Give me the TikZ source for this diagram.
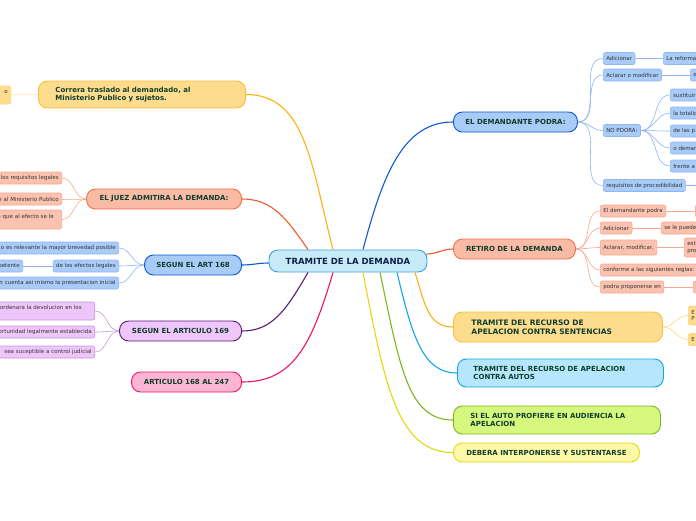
\documentclass[tikz,border=0pt]{standalone}
\usepackage{fontspec}
\setmainfont{DejaVu Sans}
\usepackage{xcolor}
\usetikzlibrary{positioning,calc}

% colours of the map
\definecolor{hubfill}{HTML}{C8EBFA}
\definecolor{hubline}{HTML}{3D9FDC}
\definecolor{hubtext}{HTML}{102047}
\definecolor{topictext}{HTML}{0F3D2B}
\definecolor{leaftext}{HTML}{333333}
\definecolor{blueline}{HTML}{0A5BD3}
\definecolor{bluefill}{HTML}{A8CBF8}
\definecolor{bluetwig}{HTML}{8FB7F0}
\definecolor{salmonline}{HTML}{F0582C}
\definecolor{salmonfill}{HTML}{F9BBA6}
\definecolor{salmontwig}{HTML}{F8A88E}
\definecolor{yellowline}{HTML}{FCB016}
\definecolor{yellowfill}{HTML}{FEDC8E}
\definecolor{yellowtwig}{HTML}{FDD57A}
\definecolor{cyanline}{HTML}{10A6E8}
\definecolor{cyanfill}{HTML}{B5E6FB}
\definecolor{greenline}{HTML}{7DB51F}
\definecolor{greenfill}{HTML}{D7F87F}
\definecolor{lemonline}{HTML}{E8D60A}
\definecolor{lemonfill}{HTML}{FDF9A8}
\definecolor{purpleline}{HTML}{5A1B78}
\definecolor{purplefill}{HTML}{EFC6FA}
\definecolor{purpletwig}{HTML}{C695D6}
\definecolor{pinkline}{HTML}{F2126E}
\definecolor{pinkfill}{HTML}{FDB5D4}

\begin{document}
\begin{tikzpicture}[x=1pt,y=-1pt]
        % Define the styles for the topics and the leaves
        \tikzstyle{hub}=[draw=hubline, fill=hubfill, rounded corners=9pt, line width=0.9pt, minimum width=158pt, minimum height=22pt, inner xsep=0pt, font=\bfseries\fontsize{8.5}{10}\selectfont, text=hubtext];
        \tikzstyle{topic}=[rounded corners=9pt, line width=0.9pt, minimum height=20pt, inner xsep=0pt, inner ysep=1pt, font=\bfseries\fontsize{7}{8.5}\selectfont, text=topictext];
        \tikzstyle{leaf}=[rounded corners=2pt, line width=0.6pt, minimum height=12pt, inner xsep=3pt, inner ysep=0pt, font=\fontsize{5.5}{6.5}\selectfont, text=leaftext];
        \tikzstyle{link}=[line width=1.1pt];
        \tikzstyle{twig}=[line width=0.6pt];
        \tikzset{
          blueT/.style={draw=blueline, fill=bluefill},
          salmonT/.style={draw=salmonline!85, fill=salmonfill},
          yellowT/.style={draw=yellowline!85, fill=yellowfill},
          cyanT/.style={draw=cyanline, fill=cyanfill},
          greenT/.style={draw=greenline, fill=greenfill},
          lemonT/.style={draw=lemonline, fill=lemonfill},
          purpleT/.style={draw=purpleline, fill=purplefill},
          pinkT/.style={draw=pinkline, fill=pinkfill},
          blueL/.style={draw=bluetwig, fill=bluefill},
          salmonL/.style={draw=salmontwig, fill=salmonfill!90},
          yellowL/.style={draw=yellowtwig, fill=yellowfill},
          purpleL/.style={draw=purpletwig, fill=purplefill},
          cutleft/.style={text width=#1, align=right},
          cutright/.style={text width=#1, align=left},
          boxed/.style={text width=#1, align=left},
        }

        \useasboundingbox (0,0) rectangle (696,520);
        \clip (0,0) rectangle (696,520);

        % Central topic
        \node[hub] (tramite) at (348,261) {TRAMITE DE LA DEMANDA};

        % Main topics on the right
        \node[topic, blueT, anchor=west, minimum width=124pt] (dem) at (453,122) {EL DEMANDANTE PODRA:};
        \node[topic, salmonT, anchor=west, minimum width=122pt] (ret) at (453,249) {RETIRO DE LA DEMANDA};
        \node[topic, yellowT, anchor=west, minimum height=30pt, inner xsep=18pt, boxed=173pt, font=\bfseries\fontsize{7.5}{9}\selectfont] (sent) at (453,327) {TRAMITE DEL RECURSO DE\\APELACION CONTRA SENTENCIAS};
        \node[topic, cyanT, anchor=west, minimum height=28pt, inner xsep=16pt, boxed=174pt] (autos) at (457,373) {TRAMITE DEL RECURSO DE APELACION\\CONTRA AUTOS};
        \node[topic, greenT, anchor=west, minimum height=28pt, inner xsep=17pt, boxed=173pt] (aud) at (453,420) {SI EL AUTO PROFIERE EN AUDIENCIA LA\\APELACION};
        \node[topic, lemonT, anchor=west, minimum width=186pt, minimum height=19pt] (deb) at (453,452.5) {DEBERA INTERPONERSE Y SUSTENTARSE};

        % Main topics on the left
        \node[topic, yellowT, anchor=west, minimum height=27pt, inner xsep=17pt, boxed=173pt] (corr) at (38,94.5) {Correra traslado al demandado, al\\Ministerio Publico y sujetos.};
        \node[topic, salmonT, anchor=east, minimum width=155pt] (juez) at (242,199) {EL JUEZ ADMITIRA LA DEMANDA:};
        \node[topic, blueT, anchor=east, minimum width=97pt] (art168) at (242,265) {SEGUN EL ART 168};
        \node[topic, purpleT, anchor=east, minimum width=122pt] (art169) at (242,331) {SEGUN EL ARTICULO 169};
        \node[topic, pinkT, anchor=east, minimum width=110pt] (art247) at (242,382) {ARTICULO 168 AL 247};

        % Connect the central topic with the main topics
        \draw[link, blueline] ($(tramite.north)+(15,0)$) .. controls +(20,-75) and +(-50,0) .. (dem.west);
        \draw[link, salmonline] ($(tramite.east)+(-1,-7)$) .. controls +(10,0) and +(-10,0) .. (ret.west);
        \draw[link, yellowline] ($(tramite.south)+(67,0)$) .. controls +(10,32) and +(-25,0) .. (sent.west);
        \draw[link, cyanline] ($(tramite.south)+(49,0)$) .. controls +(15,62) and +(-35,0) .. (autos.west);
        \draw[link, greenline] ($(tramite.south)+(32,0)$) .. controls +(20,95) and +(-45,0) .. (aud.west);
        \draw[link, lemonline] ($(tramite.south)+(15,0)$) .. controls +(22,115) and +(-55,0) .. (deb.west);
        \draw[link, yellowline] ($(tramite.north)+(-15,0)$) .. controls +(-22,-85) and +(60,0) .. (corr.east);
        \draw[link, salmonline] ($(tramite.north)+(-40,0)$) .. controls +(-22,-32) and +(30,0) .. (juez.east);
        \draw[link, blueline] ($(tramite.west)+(0,2)$) .. controls +(-10,0) and +(10,0) .. (art168.east);
        \draw[link, purpleline] ($(tramite.south)+(-40,0)$) .. controls +(-22,38) and +(30,0) .. (art169.east);
        \draw[link, pinkline] ($(tramite.south)+(-15,0)$) .. controls +(-22,75) and +(50,0) .. (art247.east);

        % Leaves of EL DEMANDANTE PODRA
        \node[leaf, blueL, anchor=west] (adic) at (603,58.5) {Adicionar};
        \node[leaf, blueL, anchor=west, cutright=60pt] (reforma) at (663,58.5) {La reforma};
        \node[leaf, blueL, anchor=west] (aclar) at (603,75) {Aclarar o modificar};
        \node[leaf, blueL, anchor=west, cutright=40pt] (aclarnext) at (690,75) {e};
        \node[leaf, blueL, anchor=west] (nopodra) at (603,130.5) {NO PDORA:};
        \node[leaf, blueL, anchor=west] (req) at (603,185.5) {requisitos de procedibilidad};
        \coordinate (reqnext) at (710,185.5);
        \foreach \y/\txt [count=\i] in {95/sustituir, 113/la totalid, 131/de las p, 148/o deman, 166/frente a}{
          \node[leaf, blueL, anchor=west, cutright=40pt] (nop\i) at (670,\y) {\txt};
          \draw[twig, bluetwig] (nopodra.east) to[out=0,in=180] (nop\i.west);
        }
        \foreach \leafname in {adic, aclar, nopodra, req}
          \draw[twig, bluetwig] (dem.east) to[out=0,in=180] (\leafname.west);
        \draw[twig, bluetwig] (adic) -- (reforma);
        \draw[twig, bluetwig] (aclar) -- (aclarnext);
        \draw[twig, bluetwig] (req) -- (reqnext);

        % Leaves of RETIRO DE LA DEMANDA
        \node[leaf, salmonL, anchor=west] (edp) at (600,211) {El demandante podra};
        \node[leaf, salmonL, anchor=west, cutright=40pt] (edpnext) at (695,211) {};
        \node[leaf, salmonL, anchor=west] (adicr) at (600,228) {Adicionar};
        \node[leaf, salmonL, anchor=west, cutright=60pt] (adicrnext) at (661,228) {se le puede};
        \node[leaf, salmonL, anchor=west, minimum height=15pt] (aclarr) at (600,247.5) {Aclarar, modificar,};
        \node[leaf, salmonL, anchor=west, minimum height=19pt, cutright=40pt] (aclarrnext) at (684,247.5) {est\\pro};
        \node[leaf, salmonL, anchor=west] (conf) at (600,270) {conforme a las siguientes reglas:};
        \node[leaf, salmonL, anchor=west] (podra) at (600,287) {podra proponerse en};
        \node[leaf, salmonL, anchor=west, cutright=40pt] (podranext) at (693,287) {};
        \foreach \leafname in {edp, adicr, aclarr, conf, podra}
          \draw[twig, salmontwig] (ret.east) to[out=0,in=180] (\leafname.west);
        \draw[twig, salmontwig] (edp) -- (edpnext);
        \draw[twig, salmontwig] (adicr) -- (adicrnext);
        \draw[twig, salmontwig] (aclarr) -- (aclarrnext);
        \draw[twig, salmontwig] (podra) -- (podranext);

        % Leaves of the recurso contra sentencias
        \node[leaf, yellowL, anchor=west, minimum height=19pt, cutright=40pt] (sent1) at (688,315.5) {E\\P};
        \node[leaf, yellowL, anchor=west, cutright=40pt] (sent2) at (688,339.5) {E};
        \draw[twig, yellowtwig] (sent.east) to[out=0,in=180] (sent1.west);
        \draw[twig, yellowtwig] (sent.east) to[out=0,in=180] (sent2.west);

        % Leaf of Correra traslado
        \node[leaf, yellowL, anchor=east, minimum height=18pt, cutleft=40pt] (corrnext) at (11,95) {o\\\mbox{}};
        \draw[twig, yellowtwig] (corr) -- (corrnext);

        % Leaves of EL JUEZ ADMITIRA
        \node[leaf, salmonL, anchor=east, cutleft=90pt] (juez1) at (62,178) {los requisitos legales};
        \node[leaf, salmonL, anchor=east, cutleft=90pt] (juez2) at (62,199) {e al Ministerio Publico};
        \node[leaf, salmonL, anchor=east, minimum height=19pt, cutleft=90pt] (juez3) at (62,219.5) {o que al efecto se le\hspace*{5pt}\mbox{}\\\mbox{}};
        \foreach \leafname in {juez1, juez2, juez3}
          \draw[twig, salmontwig] (juez.west) to[out=180,in=0] (\leafname.east);

        % Leaves of SEGUN EL ART 168
        \node[leaf, blueL, anchor=east, cutleft=140pt] (art1) at (119,248) {o es relevante la mayor brevedad posible};
        \node[leaf, blueL, anchor=east] (art2) at (119,266) {de los efectos legales};
        \node[leaf, blueL, anchor=east, cutleft=40pt] (art2next) at (23,266) {petente};
        \node[leaf, blueL, anchor=east, cutleft=140pt] (art3) at (119,283) {n cuenta asi mismo la presentacion inicial};
        \foreach \leafname in {art1, art2, art3}
          \draw[twig, bluetwig] (art168.west) to[out=180,in=0] (\leafname.east);
        \draw[twig, bluetwig] (art2) -- (art2next);

        % Leaves of SEGUN EL ARTICULO 169
        \node[leaf, purpleL, anchor=east, minimum height=18pt, cutleft=120pt] (sgn1) at (95,311) {ordenara la devolucion en los\hspace*{10pt}\mbox{}\\\mbox{}};
        \node[leaf, purpleL, anchor=east, cutleft=120pt] (sgn2) at (95,332) {ortunidad legalmente establecida};
        \node[leaf, purpleL, anchor=east, cutleft=120pt] (sgn3) at (95,352) {sea suceptible a control judicial};
        \foreach \leafname in {sgn1, sgn2, sgn3}
          \draw[twig, purpletwig] (art169.west) to[out=180,in=0] (\leafname.east);
\end{tikzpicture}
\end{document}
